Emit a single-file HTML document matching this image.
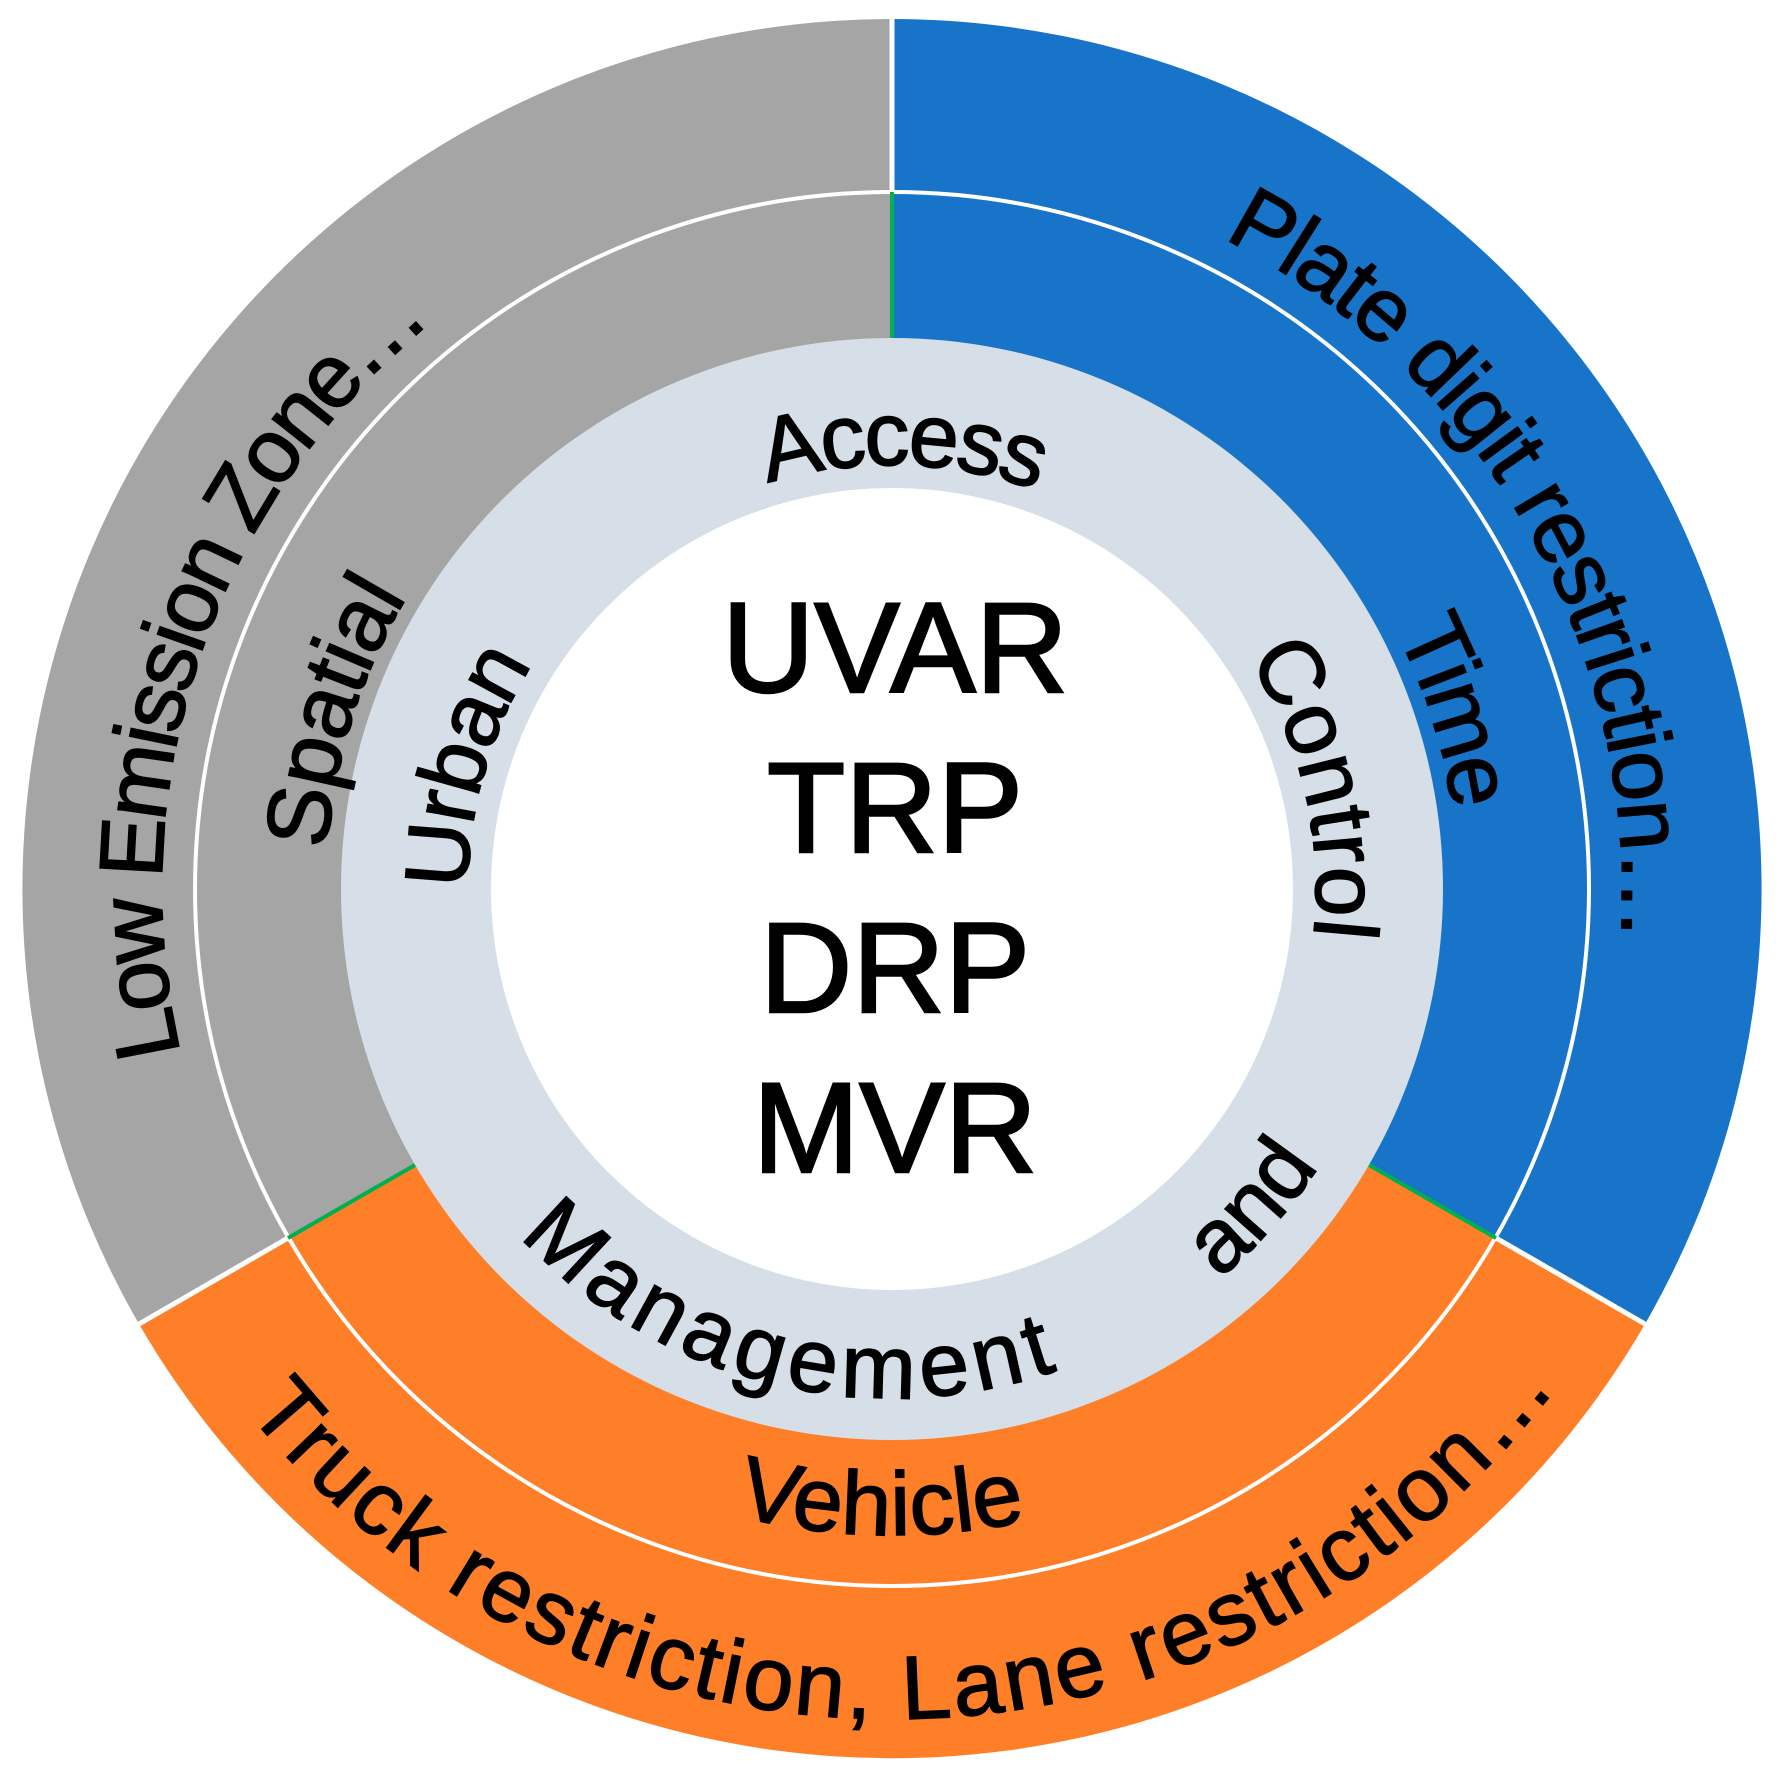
<!DOCTYPE html>
<html><head><meta charset="utf-8"><style>
html,body{margin:0;padding:0;background:#fff;width:1785px;height:1781px;overflow:hidden;}
svg{display:block;}
text{font-family:"Liberation Sans",sans-serif;fill:#000;}
.r{font-size:90px;stroke:#000;stroke-width:1.5px;}
.c{font-size:128px;stroke:#000;stroke-width:2.5px;}
</style></head><body>
<svg width="1785" height="1781" viewBox="0 0 1785 1781" xmlns="http://www.w3.org/2000/svg">
<defs>
<path id="cw730" d="M1622 889 A730 730 0 1 1 162 889 A730 730 0 1 1 1622 889"/>
<path id="ccw830" d="M1722 889 A830 830 0 1 0 62 889 A830 830 0 1 0 1722 889"/>
<path id="cw566" d="M1458 889 A566 566 0 1 1 326 889 A566 566 0 1 1 1458 889"/>
<path id="ccw646" d="M1538 889 A646 646 0 1 0 246 889 A646 646 0 1 0 1538 889"/>
<path id="cw424" d="M1316 889 A424 424 0 1 1 468 889 A424 424 0 1 1 1316 889"/>
<path id="ccw509" d="M1401 889 A509 509 0 1 0 383 889 A509 509 0 1 0 1401 889"/>
</defs>
<path d="M892 889 L892 19 A870 870 0 0 1 1645 1324 Z" fill="#1874c9"/>
<path d="M892 889 L1645 1324 A870 870 0 0 1 139 1324 Z" fill="#fe7f28"/>
<path d="M892 889 L139 1324 A870 870 0 0 1 892 19 Z" fill="#a5a5a5"/>
<line x1="892" y1="19" x2="892" y2="192" stroke="#fff" stroke-width="5"/>
<line x1="1645" y1="1324" x2="1496" y2="1238" stroke="#fff" stroke-width="5"/>
<line x1="139" y1="1324" x2="288" y2="1238" stroke="#fff" stroke-width="5"/>
<circle cx="892" cy="889" r="697" fill="none" stroke="#fff" stroke-width="4"/>
<line x1="892" y1="192" x2="892" y2="338" stroke="#00b050" stroke-width="4"/>
<line x1="1496" y1="1238" x2="1369" y2="1165" stroke="#00b050" stroke-width="4"/>
<line x1="288" y1="1238" x2="415" y2="1165" stroke="#00b050" stroke-width="4"/>
<circle cx="892" cy="889" r="551" fill="#d6dee7"/>
<circle cx="892" cy="889" r="401" fill="#fff"/>

<g transform="rotate(167 892 889)"><text class="r"><textPath href="#cw730" textLength="815" lengthAdjust="spacing">Low Emission Zone…</textPath></text></g>
<g transform="rotate(-63 892 889)"><text class="r"><textPath href="#cw730" textLength="854" lengthAdjust="spacing">Plate digit restriction…</textPath></text></g>
<g transform="rotate(141 892 889)"><text class="r"><textPath href="#ccw830" textLength="1507" lengthAdjust="spacing">Truck restriction, Lane restriction…</textPath></text></g>
<g transform="rotate(184 892 889)"><text class="r"><textPath href="#cw566" textLength="267" lengthAdjust="spacing">Spatial</textPath></text></g>
<g transform="rotate(-27 892 889)"><text class="r"><textPath href="#cw566" textLength="188" lengthAdjust="spacing">Time</textPath></text></g>
<g transform="rotate(104 892 889)"><text class="r"><textPath href="#ccw646" textLength="293" lengthAdjust="spacing">Vehicle</textPath></text></g>
<g transform="rotate(-107 892 889)"><text class="r"><textPath href="#cw424" textLength="274" lengthAdjust="spacing">Access</textPath></text></g>
<g transform="rotate(180 892 889)"><text class="r"><textPath href="#cw424" textLength="237" lengthAdjust="spacing">Urban</textPath></text></g>
<g transform="rotate(-33 892 889)"><text class="r"><textPath href="#cw424" textLength="292" lengthAdjust="spacing">Control</textPath></text></g>
<g transform="rotate(50 892 889)"><text class="r"><textPath href="#ccw509" textLength="151" lengthAdjust="spacing">and</textPath></text></g>
<g transform="rotate(137 892 889)"><text class="r"><textPath href="#ccw509" textLength="586" lengthAdjust="spacing">Management</textPath></text></g>

<text class="c" x="895" y="692" text-anchor="middle">UVAR</text>
<text class="c" x="895" y="852" text-anchor="middle">TRP</text>
<text class="c" x="895" y="1012" text-anchor="middle">DRP</text>
<text class="c" x="895" y="1172" text-anchor="middle">MVR</text>
</svg>
</body></html>
